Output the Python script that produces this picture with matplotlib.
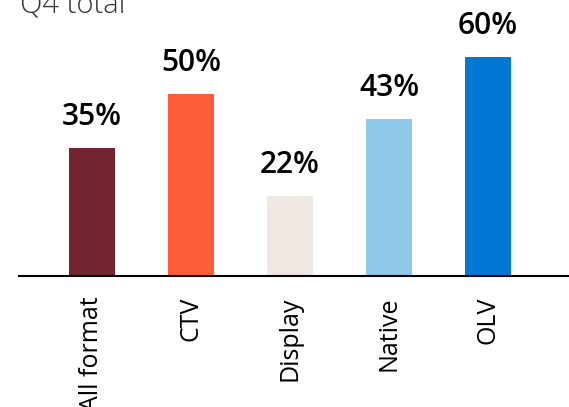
import matplotlib
matplotlib.use("Agg")
import matplotlib.pyplot as plt

categories = ["All format", "CTV", "Display", "Native", "OLV"]
values = [35, 50, 22, 43, 60]
labels = ["35%", "50%", "22%", "43%", "60%"]
colors = ["#722531", "#FF5C39", "#EFE7E2", "#8FC8E8", "#0078D4"]
title = "Q4 total"

plt.rcParams['font.family'] = ['Open Sans', 'DejaVu Sans']

W, H = 569, 407
fig = plt.figure(figsize=(W / 100, H / 100), dpi=100)
left_px, right_px = 19, 589
ax = fig.add_axes([left_px / W, (H - 276) / H, (right_px - left_px) / W, 219 / H])

x = list(range(len(categories)))
ax.bar(x, values, width=0.465, color=colors)
ax.set_xlim(-0.737, -0.737 + (right_px - left_px) / 99)
ax.set_ylim(0, 60)

for xi, v, lab in zip(x, values, labels):
    ax.annotate(lab, (xi, v), xytext=(0, 16.5), textcoords="offset points",
                ha="center", va="baseline", fontsize=21.5, fontweight="semibold",
                color="black", annotation_clip=False)

ax.set_xticks(x)
ax.set_xticklabels(categories, rotation=90, fontsize=18, va="top")
ax.tick_params(axis="x", length=0, pad=15)
ax.set_yticks([])
for s in ["top", "right", "left"]:
    ax.spines[s].set_visible(False)
ax.spines["bottom"].set_linewidth(1.5)
ax.spines["bottom"].set_color("black")

fig.text(20 / W, 1 - 14 / H, title, fontsize=21, fontweight="light",
         ha="left", va="baseline", color="#333333")

fig.savefig("out.png", dpi=100)
